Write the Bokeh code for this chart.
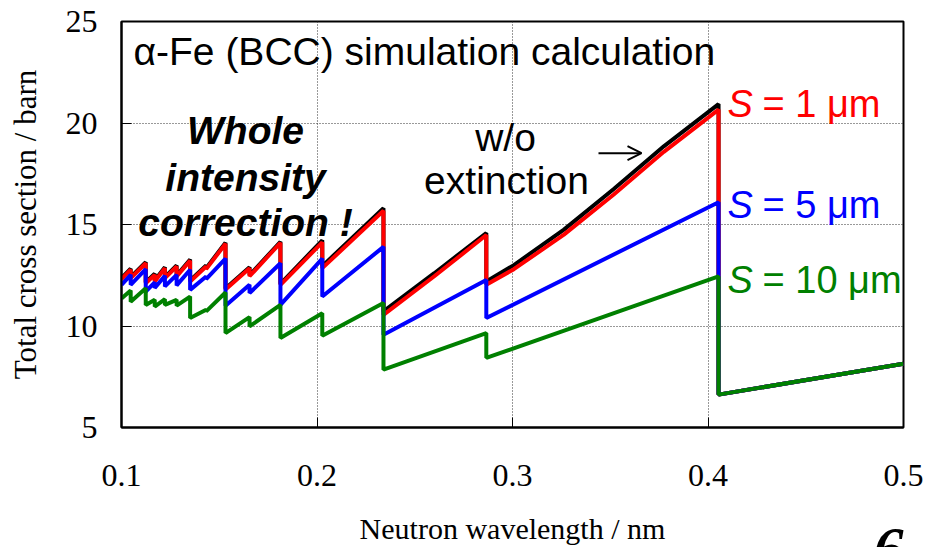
from bokeh.plotting import figure
from bokeh.models import Range1d, FixedTicker, Label, Title, Arrow, OpenHead
from bokeh.embed import file_html
from bokeh.resources import INLINE

# Bragg-edge positions (nm); each edge appears twice: value just below and just above the edge
lam_saw = [0.1000,
           0.1047, 0.1047, 0.1124, 0.1124, 0.1170, 0.1170, 0.1222, 0.1222,
           0.1282, 0.1282, 0.1351, 0.1351, 0.1433, 0.1433, 0.1532, 0.1532,
           0.1655, 0.1655, 0.1813, 0.1813, 0.2027, 0.2027, 0.2340, 0.2340,
           0.2866, 0.2866, 0.4054, 0.4054,
           0.5000]

# same edges with extra points on the curved segments (no-extinction and S = 1 um)
lam_curve = [0.1000,
             0.1047, 0.1047, 0.1124, 0.1124, 0.1170, 0.1170, 0.1222, 0.1222,
             0.1282, 0.1282, 0.1351, 0.1351, 0.1433, 0.1433, 0.1532, 0.1532,
             0.1655, 0.1655, 0.1813, 0.1813, 0.2027, 0.2027, 0.2340, 0.2340,
             0.2600, 0.2866, 0.2866, 0.3007, 0.3263, 0.3518, 0.3774, 0.4054, 0.4054,
             0.5000]

sigma_no_ext = [12.36,
                12.82, 12.41, 13.14, 12.16, 12.57, 12.24, 12.90, 12.41,
                12.98, 12.49, 13.27, 12.24, 12.98, 12.85, 14.10, 11.85,
                12.90, 12.50, 14.15, 12.08, 14.22, 12.95, 15.80, 10.72,
                12.60, 14.58, 12.19, 13.00, 14.75, 16.75, 18.85, 20.93, 6.62,
                8.14]

sigma_s1 = [12.31,
            12.77, 12.36, 13.09, 12.11, 12.52, 12.19, 12.85, 12.36,
            12.93, 12.44, 13.22, 12.19, 12.93, 12.80, 14.05, 11.80,
            12.85, 12.45, 14.10, 12.03, 14.12, 12.85, 15.68, 10.55,
            12.45, 14.48, 12.03, 12.80, 14.50, 16.48, 18.58, 20.66, 6.62,
            8.14]

sigma_s5 = [12.03,
            12.52, 12.03, 12.80, 11.70, 12.15, 11.87, 12.47, 11.95,
            12.52, 12.00, 12.77, 11.78, 12.44, 12.31, 13.32, 11.00,
            12.03, 11.62, 13.09, 11.04, 13.32, 11.45, 13.90, 9.57,
            12.27, 10.39, 16.10, 6.62,
            8.14]

sigma_s10 = [11.35,
             11.75, 11.20, 11.86, 11.04, 11.29, 10.96, 11.32, 11.04,
             11.29, 11.00, 11.45, 10.39, 10.80, 10.72, 11.65, 9.65,
             10.44, 9.98, 11.04, 9.41, 10.63, 9.52, 11.13, 7.85,
             9.65, 8.43, 12.44, 6.62,
             8.14]

x_ticks = [0.1, 0.2, 0.3, 0.4, 0.5]
y_ticks = [5, 10, 15, 20, 25]

SANS = "Liberation Sans"
SERIF = "Liberation Serif"

p = figure(width=937, height=547,
           x_range=Range1d(0.1, 0.5), y_range=Range1d(5, 25),
           output_backend="svg", toolbar_location=None,
           min_border_left=121, min_border_right=34,
           min_border_top=21, min_border_bottom=119)

p.background_fill_color = "white"
p.border_fill_color = "white"
p.outline_line_color = "black"
p.outline_line_width = 2

for ax, ticks in ((p.xaxis, x_ticks), (p.yaxis, y_ticks)):
    ax.ticker = FixedTicker(ticks=ticks)
    ax.minor_tick_line_color = None
    ax.major_tick_in = 10
    ax.major_tick_out = 0
    ax.major_tick_line_color = "black"
    ax.major_tick_line_width = 1
    ax.axis_line_color = "black"
    ax.axis_line_width = 2
    ax.major_label_text_font = SERIF
    ax.major_label_text_font_size = "32px"
    ax.major_label_text_color = "black"
    ax.axis_label_text_font = SERIF
    ax.axis_label_text_font_style = "normal"
    ax.axis_label_text_color = "black"

p.xaxis.axis_label = "Neutron wavelength / nm"
p.yaxis.axis_label = "Total cross section / barn"
p.xaxis.axis_label_text_font_size = "30px"
p.yaxis.axis_label_text_font_size = "31px"
p.xaxis.major_label_standoff = 37
p.xaxis.axis_label_standoff = 23
p.yaxis.major_label_standoff = 24
p.yaxis.axis_label_standoff = 20

p.xgrid.ticker = FixedTicker(ticks=x_ticks)
p.ygrid.ticker = FixedTicker(ticks=y_ticks)
for g in (p.xgrid, p.ygrid):
    g.grid_line_color = "#333333"
    g.grid_line_width = 1
    g.grid_line_dash = "1 2"

# curves: later series are drawn on top of earlier ones
p.line(lam_curve, sigma_no_ext, line_color="black", line_width=4)
p.line(lam_curve, sigma_s1, line_color="#ff0000", line_width=4)
p.line(lam_saw, sigma_s5, line_color="#0000ff", line_width=4)
p.line(lam_saw, sigma_s10, line_color="#008000", line_width=4)


def px_x(px):
    return 0.1 + (px - 121) / 1955.0


def px_y(py):
    return 25 - (py - 21) / 20.35


def add_text(text, x, y, size, color="black", font=SANS, style="normal",
             align="left", baseline="middle"):
    p.add_layout(Label(x=px_x(x), y=px_y(y), text=text,
                       text_font=font, text_font_size=size,
                       text_font_style=style, text_color=color,
                       text_align=align, text_baseline=baseline))


add_text("α-Fe (BCC) simulation calculation", 133, 51, "39px")

add_text("Whole", 245, 130, "39px", style="bold italic", align="center")
add_text("intensity", 245, 177, "39px", style="bold italic", align="center")
add_text("correction !", 245, 222, "39px", style="bold italic", align="center")

add_text("w/o", 505, 137, "39px", align="center")
add_text("extinction", 506, 180, "39px", align="center")

p.add_layout(Arrow(end=OpenHead(size=14, line_width=2, line_color="black"),
                   x_start=px_x(598), y_start=px_y(153),
                   x_end=px_x(641), y_end=px_y(153),
                   line_width=2, line_color="black"))

for label, yy, col in (("= 1 μm", 104, "#ff0000"),
                       ("= 5 μm", 205, "#0000ff"),
                       ("= 10 μm", 280, "#008000")):
    add_text("S", 727, yy, "38px", color=col, style="italic")
    add_text(label, 762, yy, "38px", color=col)

# slide number in the bottom panel, pulled up beside the axis title
p.add_layout(Title(text="6", align="right", text_font=SERIF,
                   text_font_size="60px", text_font_style="bold italic",
                   text_color="black", standoff=-41), "below")

open("out.html", "w").write(file_html(p, INLINE))
